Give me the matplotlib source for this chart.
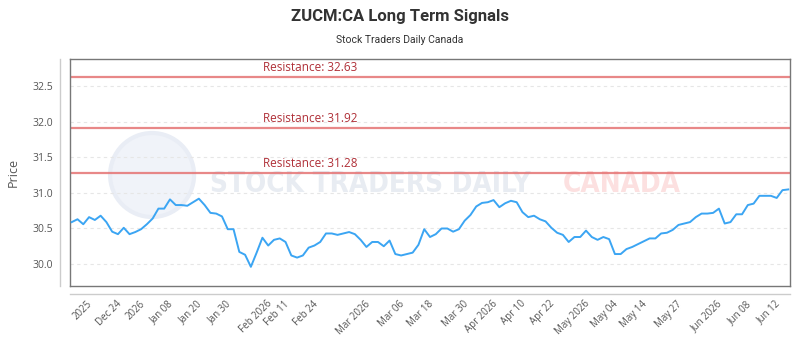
import matplotlib
matplotlib.use("Agg")
import matplotlib.pyplot as plt
from matplotlib.lines import Line2D
from matplotlib.patches import Ellipse

# closing prices (one per session)
prices = [
    30.59, 30.63, 30.56, 30.66, 30.62, 30.68, 30.59, 30.455, 30.42, 30.51,
    30.42, 30.45, 30.49, 30.56, 30.64, 30.78, 30.78, 30.91, 30.83, 30.83,
    30.82, 30.87, 30.92, 30.83, 30.72,
    30.71, 30.67, 30.49, 30.49, 30.17, 30.13, 29.96, 30.16, 30.37, 30.26,
    30.34, 30.36, 30.31, 30.12, 30.09, 30.12, 30.23, 30.26, 30.31, 30.43,
    30.43, 30.41, 30.43, 30.45, 30.42,
    30.34, 30.24, 30.31, 30.31, 30.25, 30.33, 30.14, 30.12, 30.14, 30.16,
    30.27, 30.49, 30.38, 30.42, 30.50, 30.50, 30.455, 30.49, 30.61, 30.69,
    30.81, 30.86, 30.87, 30.90, 30.80, 30.855,
    30.89, 30.87, 30.73, 30.66, 30.68, 30.63, 30.60, 30.51, 30.44, 30.41,
    30.31, 30.38, 30.38, 30.47, 30.38, 30.34, 30.38, 30.35, 30.14, 30.14,
    30.21, 30.24, 30.28, 30.32, 30.36,
    30.36, 30.43, 30.44, 30.48, 30.55, 30.57, 30.59, 30.66, 30.71, 30.71,
    30.72, 30.78, 30.57, 30.59, 30.70, 30.70, 30.83, 30.85, 30.96, 30.96,
    30.96, 30.93, 31.04, 31.05,
]

resistance = [32.63, 31.92, 31.28]

tick_idx = [4, 9, 13, 18, 23, 28, 35, 38, 43, 52, 58, 63, 69, 74, 79, 84,
            90, 95, 100, 106, 113, 118, 123]
tick_labels = ["2025", "Dec 24", "2026", "Jan 08", "Jan 20", "Jan 30",
               "Feb 2026", "Feb 11", "Feb 24", "Mar 2026", "Mar 06", "Mar 18",
               "Mar 30", "Apr 2026", "Apr 10", "Apr 22", "May 2026", "May 04",
               "May 14", "May 27", "Jun 2026", "Jun 08", "Jun 12"]

fig = plt.figure(figsize=(8, 3.5), dpi=100)
ax = fig.add_axes([70 / 800, 1 - 286 / 350, 720 / 800, 227 / 350])

# faint watermark
ax.add_patch(Ellipse((0.114, 0.489), 84 / 720, 84 / 227, transform=ax.transAxes,
                     facecolor="#f0f3f9", edgecolor="#e9edf5", lw=3, zorder=0))
ax.text(0.417, 0.45, "STOCK TRADERS DAILY", transform=ax.transAxes,
        ha="center", va="center", fontsize=20, fontweight="bold",
        family="DejaVu Sans", fontstretch="condensed", color="#e8ecf2", zorder=0)
ax.text(0.767, 0.45, "CANADA", transform=ax.transAxes,
        ha="center", va="center", fontsize=20, fontweight="bold",
        family="DejaVu Sans", fontstretch="condensed", color="#fce0e0", zorder=0)

x = list(range(len(prices)))
ax.plot(x, prices, color="#3ba5f3", lw=1.4, zorder=3)

for r in resistance:
    ax.axhline(r, color="#e57373", lw=1.6, alpha=0.85, zorder=2)
    ax.annotate(f"Resistance: {r:.2f}", xy=(0.268, r),
                xycoords=("axes fraction", "data"), xytext=(0, 2),
                textcoords="offset points", va="bottom", ha="left",
                fontsize=8.5, color="#b03038", family="Open Sans")

ax.set_xlim(-0.3, 124.3)
ax.set_ylim(29.69, 32.887)
ax.set_yticks([30.0, 30.5, 31.0, 31.5, 32.0, 32.5])
ax.set_yticklabels(["30.0", "30.5", "31.0", "31.5", "32.0", "32.5"])
ax.set_xticks(tick_idx)
ax.set_xticklabels(tick_labels, rotation=45, ha="right")
ax.grid(axis="y", color="#e6e6e6", ls=(0, (3, 3)), lw=0.8)
ax.set_axisbelow(True)

ax.tick_params(axis="y", length=0, pad=12, labelsize=7.5, labelcolor="#555555")
ax.tick_params(axis="x", length=0, pad=9, labelsize=7, labelcolor="#555555")
for lab in ax.get_xticklabels() + ax.get_yticklabels():
    lab.set_family("Open Sans")

for s in ax.spines.values():
    s.set_color("#777777")
    s.set_linewidth(1)

ax.set_ylabel("Price", fontsize=9, color="#555555", family="Open Sans", labelpad=9)

# offset axis lines
ax.add_line(Line2D([-10 / 720, -10 / 720], [0, 1], transform=ax.transAxes,
                   color="#cccccc", lw=1, clip_on=False))
ax.add_line(Line2D([0, 1], [-8 / 227, -8 / 227], transform=ax.transAxes,
                   color="#cccccc", lw=1, clip_on=False))

fig.text(0.5, 1 - 16 / 350, "ZUCM:CA Long Term Signals", ha="center", va="center",
         fontsize=12, fontweight="bold", color="#333333", family="Roboto")
fig.text(0.5, 1 - 40 / 350, "Stock Traders Daily Canada", ha="center", va="center",
         fontsize=7.5, color="#333333", family="Roboto")

fig.savefig("out.png", dpi=100)
